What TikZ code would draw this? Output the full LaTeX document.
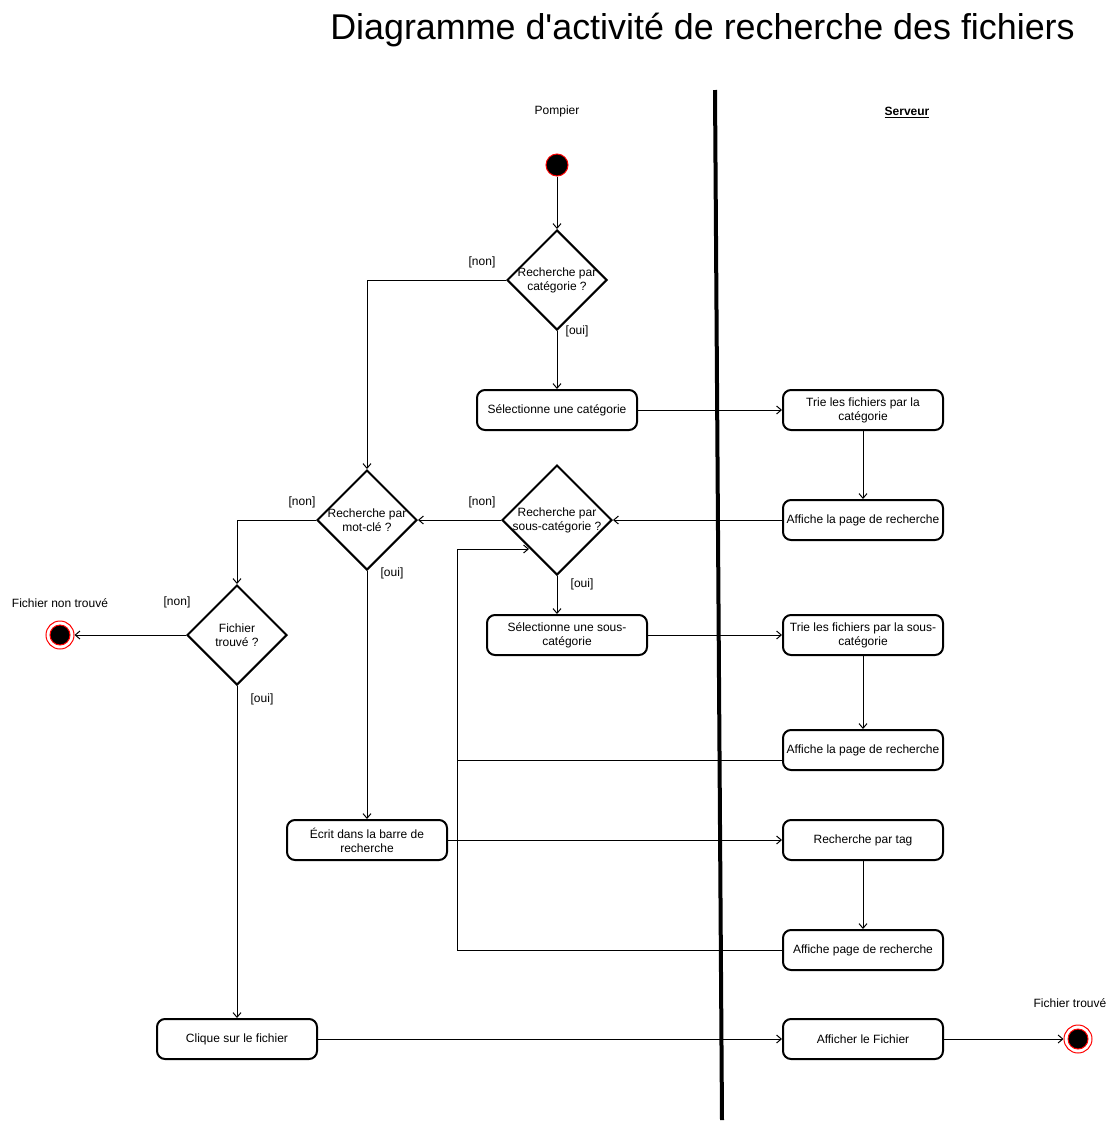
\documentclass[tikz,border=0pt]{standalone}
\usepackage{fontspec}
\setmainfont{Liberation Sans}
\usetikzlibrary{shapes.geometric,arrows.meta}
\begin{document}
\begin{tikzpicture}[x=0.75pt,y=-0.75pt,
  every node/.style={font=\fontsize{9pt}{10.5pt}\selectfont, inner sep=0pt},
  act/.style={draw, line width=1.5pt, rounded corners=6pt, minimum width=120pt, minimum height=30pt, align=center},
  dec/.style={draw, diamond, line width=1.5pt, minimum width=75pt, minimum height=75pt, aspect=1},
  dectext/.style={align=center},
  guard/.style={},
  arr/.style={line width=0.75pt, -{Straight Barb[length=3.5pt,width=6pt]}},
  conn/.style={line width=0.75pt},
  startnode/.style={circle, fill=black, draw=red, line width=0.75pt, minimum size=16.5pt},
  endnode/.style={circle, draw=red, line width=0.75pt, minimum size=21pt,
     path picture={\filldraw[fill=black,draw=red,line width=0.75pt] (path picture bounding box.center) circle (7.5pt);}},
]
\useasboundingbox (0,0) rectangle (1120,1125);

% title and lanes
\node (title) at (702.5,30) {\fontsize{26.9pt}{31pt}\selectfont Diagramme d\textquotesingle activité de recherche des fichiers};
\node (pompier) at (557,111) {Pompier};
\node (serveur) at (907,112.5) {\textbf{\underline{Serveur}}};
\coordinate (laneTop) at (715,90);
\coordinate (laneBot) at (722,1120);
\draw[line width=3pt] (laneTop) -- (laneBot);

% nodes
\node[startnode] (start) at (557,165) {};
\node[dec] (d1) at (557,280) {};
\node[dectext] (d1t) at (557,280) {Recherche par\\catégorie ?};
\node[act] (selcat) at (557,410) {Sélectionne une catégorie};
\node[act] (trie1) at (863,410) {Trie les fichiers par la\\catégorie};
\node[act] (aff1) at (863,520) {Affiche la page de recherche};
\node[dec, minimum width=82.5pt, minimum height=82.5pt] (d2) at (557,520) {};
\node[dectext] (d2t) at (557,520) {Recherche par\\sous-catégorie ?};
\node[dec] (d3) at (367,520) {};
\node[dectext] (d3t) at (367,520) {Recherche par\\mot-clé ?};
\node[dec] (d4) at (237,635) {};
\node[dectext] (d4t) at (237,635) {Fichier\\trouvé ?};
\node[endnode] (end1) at (60,635) {};
\node (end1t) at (60,603) {Fichier non trouvé};
\node[act] (selsous) at (567,635) {Sélectionne une sous-\\catégorie};
\node[act] (trie2) at (863,635) {Trie les fichiers par la sous-\\catégorie};
\node[act] (aff2) at (863,750) {Affiche la page de recherche};
\node[act] (ecrit) at (367,840) {Écrit dans la barre de\\recherche};
\node[act] (tag) at (863,840) {Recherche par tag};
\node[act] (aff3) at (863,950) {Affiche page de recherche};
\node[act] (clique) at (237,1039) {Clique sur le fichier};
\node[act] (afficher) at (863,1039) {Afficher le Fichier};
\node[endnode] (end2) at (1078,1039) {};
\node (end2t) at (1070,1003) {Fichier trouvé};

% guards
\node[guard] (g1n) at (482,262) {[non]};
\node[guard] (g1o) at (577,331) {[oui]};
\node[guard] (g2n) at (482,502) {[non]};
\node[guard] (g2o) at (582,584) {[oui]};
\node[guard] (g3n) at (302,502) {[non]};
\node[guard] (g3o) at (392,573) {[oui]};
\node[guard] (g4n) at (177,602) {[non]};
\node[guard] (g4o) at (262,699) {[oui]};

% connectors
\draw[arr] (start) -- (d1.north);
\draw[arr] (d1.west) -| (d3.north);
\draw[arr] (d1.south) -- (selcat.north);
\draw[arr] (selcat.east) -- (trie1.west);
\draw[arr] (trie1.south) -- (aff1.north);
\draw[arr] (aff1.west) -- (d2.east);
\draw[arr] (d2.west) -- (d3.east);
\draw[arr] (d2.south) -- (selsous.north -| d2.south);
\draw[arr] (selsous.east) -- (trie2.west);
\draw[arr] (trie2.south) -- (aff2.north);
\coordinate (loop) at (457,549);
\coordinate (a2out) at ([yshift=-7.5pt]aff2.west);
\draw[conn] (a2out) -- (a2out -| loop);
\draw[arr] (aff3.west) -| (loop) -- (loop -| d2.south west);
\draw[arr] (d3.south) -- (ecrit.north);
\draw[arr] (ecrit.east) -- (tag.west);
\draw[arr] (tag.south) -- (aff3.north);
\draw[arr] (d3.west) -| (d4.north);
\draw[arr] (d4.west) -- (end1.east);
\draw[arr] (d4.south) -- (clique.north);
\draw[arr] (clique.east) -- (afficher.west);
\draw[arr] (afficher.east) -- (end2.west);
\end{tikzpicture}
\end{document}
